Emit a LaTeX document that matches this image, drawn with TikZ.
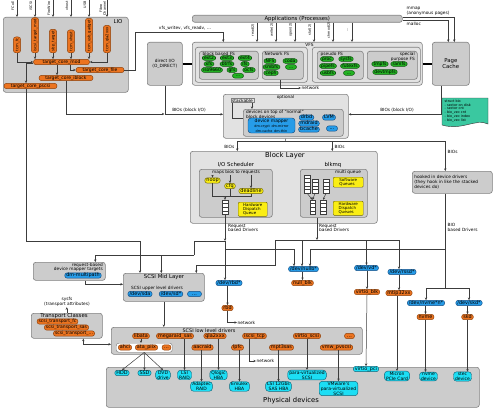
\documentclass[tikz,border=0pt]{standalone}
\usepackage{fontspec}
\setmainfont{DejaVu Sans}
\usepackage{xcolor}
\usepackage{tikz}
\usetikzlibrary{arrows.meta,positioning,calc}
\definecolor{boxgray}{RGB}{204,204,204}
\definecolor{boxlight}{RGB}{226,226,226}
\definecolor{appsgray}{RGB}{196,196,196}
\definecolor{edgegray}{RGB}{128,128,128}
\definecolor{linegray}{RGB}{60,60,60}
\definecolor{pillorange}{RGB}{236,116,32}
\definecolor{orangeedge}{RGB}{140,64,10}
\definecolor{pillblue}{RGB}{38,156,232}
\definecolor{blueedge}{RGB}{20,76,130}
\definecolor{pillcyan}{RGB}{28,222,244}
\definecolor{cyanedge}{RGB}{20,100,120}
\definecolor{pillgreen}{RGB}{34,178,34}
\definecolor{greenedge}{RGB}{16,84,16}
\definecolor{pillyellow}{RGB}{250,238,20}
\definecolor{yellowedge}{RGB}{110,100,10}
\definecolor{biopaper}{RGB}{58,200,160}
\newcommand\pillfs{\fontsize{4.9}{5.4}\selectfont}
\newcommand\mpillfs{\fontsize{4.5}{4.9}\selectfont}
\newcommand\gpillfs{\fontsize{4.5}{4.9}\selectfont}
\newcommand\fabfs{\fontsize{3.8}{4.2}\selectfont}
\newcommand\lblfs{\fontsize{4.3}{4.9}\selectfont}
\newcommand\yfs{\fontsize{4}{4.3}\selectfont}
\newcommand\tinyfs{\fontsize{3.4}{3.8}\selectfont}
\newcommand\boxfs{\fontsize{5.4}{6.2}\selectfont}
\newcommand\bigfs{\fontsize{6.8}{7.6}\selectfont}
\tikzset{
  panel/.style={
    rectangle,
    rounded corners=2.5pt,
    draw=edgegray,
    line width=0.6pt,
    fill=boxgray,
    inner sep=0pt
  },
  pill/.style={
    rectangle,
    rounded corners=2.5pt,
    line width=0.45pt,
    inner xsep=1.6pt,
    inner ysep=0.45pt,
    text height=3.5pt,
    text depth=1pt,
    font=\pillfs
  },
  mpill/.style={
    rectangle,
    rounded corners=3pt,
    line width=0.45pt,
    inner xsep=1.6pt,
    inner ysep=0.6pt,
    align=center,
    font=\mpillfs
  },
  opill/.style={pill, draw=orangeedge, fill=pillorange},
  fabpill/.style={opill, font=\fabfs, rotate=90, anchor=west, inner ysep=1.4pt},
  bpill/.style={pill, draw=blueedge, fill=pillblue},
  cpill/.style={pill, draw=cyanedge, fill=pillcyan},
  cmpill/.style={mpill, draw=cyanedge, fill=pillcyan},
  gpill/.style={pill, draw=greenedge, fill=pillgreen, font=\gpillfs,
    text height=3.2pt, text depth=0.9pt, inner ysep=0.35pt},
  ypill/.style={pill, draw=yellowedge, fill=pillyellow},
  ybox/.style={
    rectangle,
    rounded corners=1pt,
    draw=yellowedge,
    fill=pillyellow,
    line width=0.45pt,
    align=left,
    font=\yfs,
    inner sep=1pt
  },
  qslot/.style={
    rectangle,
    draw=linegray,
    fill=white,
    line width=0.4pt,
    minimum width=5.5pt,
    minimum height=3.6pt,
    inner sep=0pt
  },
  lbl/.style={font=\lblfs, inner sep=0.5pt},
  flow/.style={-{Stealth[length=2.6pt,width=2.4pt]}, line width=0.5pt, linegray},
  link/.style={line width=0.5pt, linegray},
  bar/.style={line width=2.6pt, black}
}

\begin{document}
\begin{tikzpicture}[x=1pt,y=-1pt]
\useasboundingbox (0,0) rectangle (500,412);

% ---- panels
\node[panel, anchor=north west, minimum width=125pt, minimum height=75pt] (lio) at (3,17) {};
\node[font=\boxfs, anchor=east] (liolbl) at (126,21.5) {LIO};
\node[panel, anchor=north west, minimum width=35pt, minimum height=43pt, font=\lblfs, align=center] (dio) at (147,42) {direct I/O\\(O\_DIRECT)};
\node[panel, fill=appsgray, anchor=north west, minimum width=210pt, minimum height=7pt, font=\boxfs] (apps) at (192,15) {Applications (Processes)};
\node[panel, fill=boxlight, anchor=north west, minimum width=230pt, minimum height=43pt] (vfs) at (192,42) {};
\node[panel, fill=boxlight, anchor=north west, minimum width=112pt, minimum height=35pt] (vfsl) at (195,47) {};
\node[panel, fill=boxlight, anchor=north west, minimum width=108pt, minimum height=35pt] (vfsr) at (312,47) {};
\node[font=\lblfs] (vfslbl) at (309.5,44.8) {VFS};
\node[panel, anchor=north west, minimum width=59pt, minimum height=28pt] (blockfs) at (199,51) {};
\node[lbl, anchor=west] (blockfslbl) at (202,54.3) {block based FS};
\node[panel, anchor=north west, minimum width=41pt, minimum height=28pt] (netfs) at (262,51) {};
\node[lbl, anchor=west] (netfslbl) at (264,54.3) {Network FS};
\node[panel, anchor=north west, minimum width=46pt, minimum height=28pt] (pseudofs) at (317,51) {};
\node[lbl, anchor=west] (pseudofslbl) at (320,54.3) {pseudo FS};
\node[panel, anchor=north west, minimum width=50pt, minimum height=28pt] (specfs) at (367,51) {};
\node[lbl, anchor=east, align=right] (specfslbl) at (415.5,56.5) {special\\purpose FS};
\node[panel, anchor=north west, minimum width=37pt, minimum height=43pt, font=\boxfs, align=center] (pc) at (432,42) {Page\\Cache};

\node[panel, fill=boxlight, anchor=north west, minimum width=125pt, minimum height=44pt] (opt) at (223,94) {};
\node[lbl] (optlbl) at (285.5,97.5) {optional};
\node[panel, anchor=north west, minimum width=100pt, minimum height=27pt] (devs) at (243,109) {};
\node[lbl, anchor=north west, align=left] (devslbl) at (245.5,109.8) {devices on top of ``normal''\\block devices};
\node[rectangle, draw=edgegray, fill=boxlight, font=\lblfs, inner xsep=1pt, inner ysep=0.5pt, line width=0.45pt] (stack) at (242.5,100.5) {stackable};

\path[draw=linegray, fill=biopaper, line width=0.45pt] (442,98) -- (488,98) -- (488,124) .. controls (476,118) and (462,131) .. (442,125) -- cycle;
\node[font=\tinyfs, align=left, anchor=north west, inner sep=0pt] (biotxt) at (444.5,99.5) {struct bio\\- sector on disk\\- sector cnt\\- bio\_vec cnt\\- bio\_vec index\\- bio\_vec list};

\node[panel, fill=boxlight, anchor=north west, minimum width=187pt, minimum height=72pt] (block) at (190,151) {};
\node[font=\bigfs] (blocklbl) at (285,155.5) {Block Layer};
\node[panel, anchor=north west, minimum width=73pt, minimum height=48pt] (sched) at (199,169) {};
\node[font=\boxfs] (schedlbl) at (236,165) {I/O Scheduler};
\node[lbl] (maps) at (236,172.5) {maps bios to requests};
\node[panel, anchor=north west, minimum width=67pt, minimum height=48pt] (blkmq) at (300,169) {};
\node[font=\boxfs] (blkmqlbl) at (333,165) {blkmq};
\node[lbl] (mqlbl) at (348,172.5) {multi queue};
\node[panel, anchor=north west, minimum width=80pt, minimum height=22pt, align=left, font=\lblfs, text width=76pt, inner xsep=2pt] (hooked) at (412,171) {hooked in device drivers\\(they hook in like the stacked\\devices do)};

\node[panel, anchor=north west, minimum width=72pt, minimum height=18pt] (dmt) at (33,262) {};
\node[lbl, anchor=east, align=right] (dmtlbl) at (103.5,267.3) {request-based\\device mapper targets};
\node[panel, anchor=north west, minimum width=81pt, minimum height=28pt] (scsimid) at (123,273) {};
\node[font=\boxfs] (midlbl) at (164,277.5) {SCSI Mid Layer};
\node[lbl] (upperlbl) at (157,288) {SCSI upper level drivers};
\node[panel, anchor=north west, minimum width=71pt, minimum height=25pt] (transport) at (31,313) {};
\node[font=\boxfs] (translbl) at (64,316.3) {Transport Classes};
\node[lbl, align=center] (sysfs) at (67,302) {sysfs\\(transport attributes)};
\node[panel, anchor=north west, minimum width=251pt, minimum height=27pt] (low) at (111,327) {};
\node[font=\pillfs] (lowlbl) at (209,330.5) {SCSI low level drivers};
\node[rectangle, rounded corners=2.5pt, draw=edgegray, fill=white, line width=0.45pt, anchor=north west, minimum width=56pt, minimum height=9pt] (atagrp) at (116,343) {};
\node[panel, anchor=north west, minimum width=373pt, minimum height=40pt] (phys) at (106,367) {};
\node[font=\bigfs] (physlbl) at (291,401) {Physical devices};

% ---- LIO
\node[fabpill] (fc) at (17,53) {tcm\_fc};
\node[fabpill] (iscsi) at (35,53) {iscsi\_target\_mod};
\node[fabpill] (sbp) at (53,53) {sbp\_target};
\node[fabpill] (vhost) at (71,53) {tcm\_vhost};
\node[fabpill] (usb) at (89,53) {tcm\_usb\_gadget};
\node[fabpill] (qla) at (107,53) {tcm\_qla2xxx};
\node[opill, font=\mpillfs, minimum width=56pt] (mod) at (61.5,62) {target\_core\_mod};
\node[opill, font=\mpillfs, minimum width=48pt] (file) at (100,70) {target\_core\_file};
\node[opill, font=\mpillfs, minimum width=54pt] (iblock) at (66,78) {target\_core\_iblock};
\node[opill, font=\mpillfs, minimum width=53pt] (pscsi) at (30.5,86) {target\_core\_pscsi};

% ---- file systems
\node[gpill] (ext2) at (209,58) {ext2};
\node[gpill] (ext3) at (227,58) {ext3};
\node[gpill] (ext4) at (245,58) {ext4};
\node[gpill] (xfs) at (209,64) {xfs};
\node[gpill] (btrfs) at (227,64) {btrfs};
\node[gpill] (ifs) at (245,64) {ifs};
\node[gpill] (iso) at (212,70) {iso9660};
\node[gpill] (gfs) at (232,70) {gfs};
\node[gpill] (ocfs) at (249,70) {ocfs};
\node[gpill, minimum width=11pt] (bfsdots) at (238,75.8) {...};
\node[gpill] (nfs) at (270,61) {NFS};
\node[gpill] (coda) at (290,61) {coda};
\node[gpill] (smbfs) at (271.5,67) {smbfs};
\node[gpill, minimum width=11pt] (nfsdots) at (291,67) {...};
\node[gpill] (ceph) at (271,73) {ceph};
\node[gpill] (proc) at (327,59) {proc};
\node[gpill] (sysfsfs) at (346,59) {sysfs};
\node[gpill] (pipefs) at (328,66) {pipefs};
\node[gpill] (futexfs) at (350,66) {futexfs};
\node[gpill] (usbfs) at (328,73) {usbfs};
\node[gpill, minimum width=11pt] (psdots) at (349,73) {...};
\node[gpill] (tmpfs) at (380,64) {tmpfs};
\node[gpill] (ramfs) at (399,64) {ramfs};
\node[gpill] (devtmpfs) at (385,72) {devtmpfs};

% ---- stacked devices
\node[mpill, draw=blueedge, fill=pillblue, minimum width=47pt, minimum height=15pt] (dmap) at (271.5,125.5) {device mapper\\{\tinyfs dm-crypt\enspace dm-mirror}\\{\tinyfs dm-cache\enspace dm-thin}};
\node[bpill] (drbd) at (306.5,117.5) {drbd};
\node[bpill] (lvm) at (329,117.5) {LVM};
\node[bpill] (mdraid) at (309,123.5) {mdraid};
\node[bpill] (bcache) at (309,129.5) {bcache};
\node[bpill, minimum width=11pt] (devsdots) at (332,128.5) {...};

% ---- block layer
\node[ypill] (noop) at (212.5,180.5) {noop};
\node[ypill] (cfq) at (230,186) {cfq};
\node[ypill] (deadline) at (251,191) {deadline};
\foreach \i in {1,...,4} \node[qslot] (qa\i) at (225,{198.2+3.6*\i}) {};
\node[ybox, anchor=north west, minimum width=29pt, minimum height=13pt] (hwq) at (238,202) {Hardware\\Dispatch\\Queue};
\node[ybox, anchor=north west, minimum width=30pt, minimum height=10pt] (swq) at (333,177) {Software\\Queues};
\node[ybox, anchor=north west, minimum width=30pt, minimum height=12pt] (hwqs) at (333,201) {Hardware\\Dispatch\\Queues};
\foreach \i in {1,...,5} \node[qslot] (ua\i) at (307,{173.2+3.6*\i}) {};
\foreach \i in {1,...,4} \node[qslot] (ub\i) at (315,{177+3.6*\i}) {};
\foreach \i in {1,...,4} \node[qslot] (uc\i) at (326,{177+3.6*\i}) {};
\foreach \i in {1,...,4} \node[qslot] (lb\i) at (312.5,{198.2+3.6*\i}) {};
\foreach \i in {1,...,4} \node[qslot] (lc\i) at (323,{198.2+3.6*\i}) {};

% ---- drivers and device nodes
\node[bpill] (dmmp) at (83,275.5) {dm-multipath};
\node[bpill] (devsda) at (140,294) {/dev/sda};
\node[bpill] (devsd) at (171,294) {/dev/sd*};
\node[bpill, minimum width=14pt] (middots) at (194.5,294) {...};
\node[bpill] (devrbd) at (229,283) {/dev/rbd*};
\node[opill] (rbd) at (227.5,308) {rbd};
\node[bpill] (devnullb) at (303.5,269) {/dev/nullb*};
\node[opill] (nullblk) at (302.5,283) {null\_blk};
\node[bpill] (devvd) at (366.5,268) {/dev/vd*};
\node[opill] (virtioblk) at (367,292) {virtio\_blk};
\node[bpill] (devrssd) at (402,272) {/dev/rssd*};
\node[opill] (mtip) at (399,293) {mtip32xx};
\node[bpill] (devnvme) at (426,303) {/dev/nvme*n*};
\node[opill] (nvme) at (425.5,317) {nvme};
\node[bpill] (devskd) at (469,303) {/dev/skd*};
\node[opill] (skd) at (467.5,317) {skd};

\node[opill, font=\mpillfs] (tfc) at (57.5,321.5) {scsi\_transport\_fc};
\node[opill, font=\mpillfs] (tsas) at (66.5,327.5) {scsi\_transport\_sas};
\node[opill, font=\mpillfs] (tdots) at (74,333.5) {scsi\_transport\_...};

\node[opill] (libata) at (141,336) {libata};
\node[opill] (megaraid) at (175,336) {megaraid\_sas};
\node[opill] (qla2) at (215,336) {qla2xxx};
\node[opill] (iscsitcp) at (254.5,336) {iscsi\_tcp};
\node[opill] (virtioscsi) at (307,336) {virtio\_scsi};
\node[opill, minimum width=10pt] (lowdots) at (349.5,336) {...};
\node[opill] (ahci) at (125,347.5) {ahci};
\node[opill] (atapiix) at (146.5,347.5) {ata\_piix};
\node[opill, minimum width=9pt] (atadots) at (166.5,347.5) {...};
\node[opill] (aacraid) at (202.5,347.5) {aacraid};
\node[opill] (lpfc) at (237.5,347.5) {lpfc};
\node[opill] (mpt) at (281.5,347.5) {mpt3sas};
\node[opill] (vmwpv) at (336.5,347.5) {vmw\_pvscsi};

\node[cpill] (hdd) at (122,373) {HDD};
\node[cpill] (ssd) at (144.5,373) {SSD};
\node[cmpill] (dvd) at (163,375) {DVD\\drive};
\node[cmpill] (lsiraid) at (184.5,375) {LSI\\RAID};
\node[cmpill] (qlogic) at (218.5,375) {Qlogic\\HBA};
\node[cmpill] (adaptec) at (201.5,386.5) {Adaptec\\RAID};
\node[cmpill] (emulex) at (239.5,386.5) {Emulex\\HBA};
\node[cmpill] (lsisas) at (278.5,386.5) {LSI 12Gbs\\SAS HBA};
\node[cmpill] (pvscsi) at (307,375) {para-virtualized\\SCSI};
\node[cmpill] (vmware) at (338.5,388.5) {VMware's\\para-virtualized\\SCSI};
\node[cpill] (virtiopci) at (366,369) {virtio\_pci};
\node[cmpill] (micron) at (397,376) {Micron\\PCIe Card};
\node[cmpill] (nvmedev) at (428.5,376.5) {nvme\\device};
\node[cmpill] (stec) at (462.5,376.5) {stec\\device};

% ---- labels on connectors
\node[lbl, anchor=south] (vfswr) at (185,31) {vfs\_writev, vfs\_readv, ...};
\node[lbl, anchor=south west, align=left] (mmaplbl) at (406,16.2) {mmap\\(anonymous pages)};
\node[lbl, anchor=north west] (malloclbl) at (406,21.2) {malloc};
\node[lbl] (bioL1) at (189,110.5) {BIOs (block I/O)};
\node[lbl] (bioL2) at (397,110.5) {BIOs (block I/O)};
\node[lbl, anchor=east] (bioL3) at (235,147) {BIOs};
\node[lbl, anchor=west] (bioL4) at (334,147) {BIOs};
\node[lbl, anchor=west] (bioL5) at (447,152) {BIOs};
\node[lbl, anchor=west, align=left] (rqlbl1) at (227.5,228) {Request\\based Drivers};
\node[lbl, anchor=west, align=left] (rqlbl2) at (318.5,228) {Request\\based Drivers};
\node[lbl, anchor=west, align=left] (biolbl) at (447,227) {BIO\\based Drivers};
\node[lbl, anchor=west] (net1) at (301,88) {network};
\node[lbl, anchor=west] (net2) at (237,322.5) {network};
\node[lbl, anchor=west] (net3) at (256,361) {network};

% ---- inputs from the top
\foreach \x/\t [count=\i] in {17/FCoE, 35/iSCSI, 53/FireWire, 71/vhost, 89/USB, 107/{Fibre\\Channel}} {
  \coordinate (in\i) at (\x,0);
  \draw[flow] (in\i) -- (in\i |- lio.north);
  \node[rotate=90, font=\tinyfs, align=center, anchor=east, inner sep=0.3pt] (inlbl\i) at (\x-4.2,1) {\t};
}
\foreach \x/\t [count=\i] in {257/read(2), 276/write(2), 295/open(2), 314/stat(2), 333/chmod(2), 352/\ldots} {
  \coordinate (sc\i) at (\x,30);
  \draw[flow] (sc\i |- apps.south) -- (sc\i |- vfs.north);
  \node[rotate=90, font=\tinyfs, inner sep=0.3pt] (sclbl\i) at (\x-4.2,30) {\t};
}
\draw[flow] ([yshift=1.5pt]apps.east) -| ([xshift=3.5pt]pc.north);
\draw[flow] ([yshift=-1.5pt]apps.east) -| ([xshift=-2.5pt]pc.north);
\draw[bar] (dio.east) -- (vfs.west);
\draw[bar] (vfs.east) -- (pc.west);

% ---- LIO connectors
\draw[flow] (fc.west) |- (mod.west);
\draw[flow] (iscsi.west) -- (iscsi.west |- mod.north);
\draw[flow] (sbp.west) -- (sbp.west |- mod.north);
\draw[flow] (vhost.west) -- (vhost.west |- mod.north);
\draw[flow] (usb.west) -- (usb.west |- mod.north);
\draw[flow] (qla.west) |- (mod.east);
\draw[flow] ([xshift=8.5pt]mod.south) |- (file.west);
\draw[flow] ([xshift=-4.5pt]mod.south) -- ([xshift=-4.5pt]mod.south |- iblock.north);
\draw[flow] ([yshift=-1.5pt]mod.west) -| ([xshift=-4.5pt]pscsi.north);
\coordinate (wbend) at (135,32);
\draw[flow] (file.east) -| (wbend) -| ([xshift=-84pt]vfs.north);
\coordinate (bioj) at (164.5,114);
\draw[flow] (iblock.south) |- (bioj);
\draw[flow] (dio.south) |- ([yshift=2pt]opt.west);
\draw[flow] ([xshift=-9.5pt]pc.south) |- ([yshift=2pt]opt.east);
\draw[flow] ([xshift=-2.5pt]netfs.south) |- (net1.west);

% ---- stacking loop
\draw[link] ([yshift=4.5pt]devs.west) -| ([xshift=0.8pt]stack.south west);
\draw[flow] ([xshift=-2pt]stack.south east) -- ([xshift=-2pt]stack.south east |- devs.north);

% ---- BIOs into the block layer
\coordinate (optJ) at (285.5,141);
\draw[link] (opt.south) -- (optJ);
\draw[flow] (optJ) -| ([xshift=-46.5pt]block.north);
\draw[flow] (optJ) -| ([xshift=48.5pt]block.north);
\draw[flow] (optJ) -| ([xshift=-7pt]hooked.north);

% ---- inside the block layer
\draw[flow] (maps.south -| noop.north) -- (noop.north);
\draw[flow] (maps.south -| cfq.north) -- (cfq.north);
\draw[flow] (maps.south -| deadline.north) -- (deadline.north);
\coordinate (qj) at (225,196.3);
\draw[link] (noop.south) |- (qj);
\draw[link] (cfq.south) |- (qj);
\draw[link] (deadline.south) |- (qj);
\draw[flow] (qj) -- (qa1.north);
\draw[flow] (ua5.south) -- (lb1.north);
\draw[flow] (ub4.south) -- (lb1.north);
\draw[flow] (uc4.south) -- (lc1.north);

% ---- request based and BIO based routes
\coordinate (rqA) at (225,241);
\coordinate (rqB) at (225,249);
\coordinate (rqL) at (194,255);
\coordinate (mqA) at (317,240);
\coordinate (mqL) at (275,265);
\coordinate (bioB) at (445,249);
\coordinate (bioC) at (445,288);
\coordinate (pscsiJ) at (140,241);
\draw[flow] (qa4.south) -- (rqA);
\draw[link] (rqA) -- (rqB);
\draw[flow] (rqB) -- (rqB |- devrbd.north);
\draw[link] (rqA) -| (rqL);
\draw[flow] (rqL) -| ([xshift=26pt]dmt.north);
\draw[flow] (rqL) -| ([xshift=-2.5pt]scsimid.north);
\draw[flow] (rqB) -| ([xshift=-9.5pt]devnullb.north);
\draw[flow] (mqA |- blkmq.south) -- (mqA);
\draw[flow] (mqA) -| (mqL) -| ([xshift=32.5pt]scsimid.north);
\draw[flow] (mqA) -| ([xshift=-1.5pt]devnullb.north);
\draw[flow] (mqA) -| (devvd.north);
\draw[flow] (mqA) -| ([xshift=-3pt]devrssd.north);
\draw[link] (hooked.south -| bioB) -- (bioC);
\draw[flow] (bioB) -| ([xshift=6.5pt]devnullb.north);
\draw[flow] (bioC) -| (devnvme.north);
\draw[flow] (bioC) -| (devskd.north);
\draw[flow] ([xshift=-4.5pt]pscsi.south) |- (pscsiJ) -- (pscsiJ |- scsimid.north);

% ---- device nodes to drivers
\draw[flow] (devrbd.south -| rbd.north) -- (rbd.north);
\draw[flow] (rbd.south) |- (net2.west);
\draw[flow] (devnullb.south -| nullblk.north) -- (nullblk.north);
\draw[flow] (devvd.south -| virtioblk.north) -- (virtioblk.north);
\draw[flow] (devrssd.south -| mtip.north) -- (mtip.north);
\draw[flow] (devnvme.south -| nvme.north) -- (nvme.north);
\draw[flow] (devskd.south -| skd.north) -- (skd.north);
\draw[flow] (virtioblk.south) -- (virtiopci.north);
\draw[flow] (mtip.south -| micron.north) -- (micron.north);
\draw[flow] (nvme.south) -- (nvme.south |- nvmedev.north);
\draw[flow] (skd.south) -- (skd.south |- stec.north);

% ---- SCSI
\draw[flow] ([xshift=16pt]dmt.south) |- ([yshift=3pt]scsimid.west);
\draw[flow] (scsimid.south) -- (scsimid.south |- low.north);
\draw[flow] (transport.north) -- (transport.north |- sysfs.south);
\draw[{Stealth[length=2.6pt,width=2.4pt]}-{Stealth[length=2.6pt,width=2.4pt]}, line width=0.5pt, linegray] ([xshift=16.5pt]transport.south) |- ([yshift=-3.5pt]low.west);
\draw[flow] (libata.south) -- (libata.south |- atagrp.north);
\draw[flow] (atagrp.south) -- (hdd.north);
\draw[flow] (atagrp.south) -- (ssd.north);
\draw[flow] (atagrp.south) -- (dvd.north);
\draw[flow] (lsiraid.north |- megaraid.south) -- (lsiraid.north);
\draw[flow] (adaptec.north |- aacraid.south) -- (adaptec.north);
\draw[flow] (qlogic.north |- qla2.south) -- (qlogic.north);
\draw[flow] (emulex.north |- lpfc.south) -- (emulex.north);
\draw[flow] (lsisas.north |- mpt.south) -- (lsisas.north);
\draw[flow] (virtioscsi.south) -- (pvscsi.north);
\draw[flow] (vmware.north |- vmwpv.south) -- (vmware.north);
\draw[flow] ([xshift=-5.5pt]iscsitcp.south) |- (net3.west);
\end{tikzpicture}
\end{document}
